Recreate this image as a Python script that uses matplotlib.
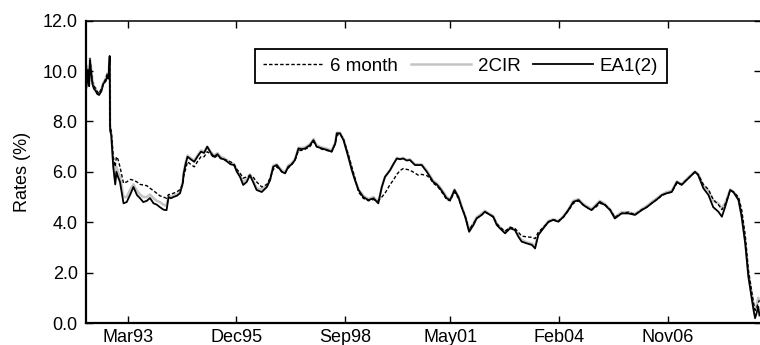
import matplotlib
matplotlib.use('Agg')
from matplotlib import pyplot as plt

dates = [1992.11, 1992.14, 1992.16, 1992.19, 1992.21, 1992.27, 1992.31, 1992.36, 1992.39, 1992.44,
         1992.50, 1992.55, 1992.61, 1992.65, 1992.68, 1992.71, 1992.72, 1992.75, 1992.80, 1992.85,
         1992.88, 1992.92, 1992.97, 1993.06, 1993.14, 1993.23, 1993.31, 1993.40, 1993.48, 1993.56,
         1993.65, 1993.73, 1993.82, 1993.90, 1993.98, 1994.07, 1994.15, 1994.20, 1994.26, 1994.32,
         1994.41, 1994.49, 1994.56, 1994.58, 1994.63, 1994.68, 1994.76, 1994.85, 1994.93, 1995.02,
         1995.10, 1995.18, 1995.27, 1995.35, 1995.44, 1995.52, 1995.60, 1995.69, 1995.77, 1995.86,
         1995.93, 1996.01, 1996.09, 1996.18, 1996.26, 1996.34, 1996.43, 1996.56, 1996.69, 1996.77,
         1996.85, 1996.94, 1997.07, 1997.15, 1997.23, 1997.32, 1997.40, 1997.49, 1997.57, 1997.66,
         1997.78, 1997.87, 1997.95, 1998.08, 1998.21, 1998.33, 1998.42, 1998.46, 1998.54, 1998.63,
         1998.75, 1998.84, 1998.92, 1999.01, 1999.13, 1999.26, 1999.39, 1999.51, 1999.60, 1999.68,
         1999.81, 1999.89, 1999.98, 2000.06, 2000.14, 2000.23, 2000.31, 2000.44, 2000.52, 2000.61,
         2000.74, 2000.82, 2000.90, 2000.99, 2001.07, 2001.16, 2001.24, 2001.33, 2001.39, 2001.44,
         2001.54, 2001.62, 2001.71, 2001.81, 2001.92, 2002.00, 2002.13, 2002.21, 2002.34, 2002.42,
         2002.51, 2002.59, 2002.72, 2002.85, 2002.97, 2003.06, 2003.14, 2003.27, 2003.40, 2003.48,
         2003.56, 2003.69, 2003.82, 2003.94, 2004.07, 2004.20, 2004.32, 2004.45, 2004.58, 2004.70,
         2004.83, 2004.91, 2005.02, 2005.12, 2005.25, 2005.38, 2005.50, 2005.67, 2005.84, 2006.01,
         2006.18, 2006.31, 2006.43, 2006.56, 2006.69, 2006.81, 2006.94, 2007.07, 2007.19, 2007.36,
         2007.53, 2007.61, 2007.74, 2007.87, 2007.99, 2008.12, 2008.21, 2008.29, 2008.42, 2008.50,
         2008.63, 2008.71, 2008.80, 2008.88, 2008.96, 2009.01, 2009.05, 2009.09, 2009.13, 2009.16]

six_month = [9.3, 9.7, 10.1, 9.6, 10.5, 9.6, 9.4, 9.3, 9.2, 9.1,
             9.3, 9.5, 9.7, 9.9, 9.8, 10.5, 7.9, 7.6, 6.6, 6.2,
             6.6, 6.5, 6.2, 5.55, 5.6, 5.7, 5.67, 5.6, 5.5, 5.48,
             5.45, 5.35, 5.25, 5.15, 5.05, 5.0, 4.95, 5.1, 5.1, 5.15,
             5.2, 5.3, 5.5, 5.8, 6.1, 6.4, 6.3, 6.2, 6.4, 6.6,
             6.6, 6.8, 6.7, 6.55, 6.65, 6.55, 6.5, 6.45, 6.4, 6.3,
             6.1, 5.95, 5.75, 5.8, 5.85, 5.8, 5.6, 5.4, 5.5, 5.75,
             6.1, 6.2, 6.0, 5.95, 6.15, 6.3, 6.45, 6.85, 6.85, 6.9,
             7.0, 7.2, 7.0, 6.9, 6.85, 6.8, 7.1, 7.45, 7.5, 7.3,
             6.7, 6.2, 5.75, 5.2, 4.95, 4.85, 4.9, 4.85, 5.0, 5.15,
             5.5, 5.67, 5.9, 6.05, 6.13, 6.1, 6.07, 5.95, 5.87, 5.9,
             5.85, 5.75, 5.55, 5.45, 5.3, 5.1, 4.9, 4.85, 5.05, 5.2,
             4.95, 4.6, 4.25, 3.7, 3.95, 4.15, 4.3, 4.4, 4.3, 4.2,
             3.95, 3.8, 3.65, 3.8, 3.75, 3.6, 3.45, 3.42, 3.4, 3.35,
             3.6, 3.8, 4.0, 4.1, 4.05, 4.2, 4.45, 4.75, 4.85, 4.7,
             4.55, 4.5, 4.6, 4.75, 4.7, 4.5, 4.2, 4.35, 4.4, 4.3,
             4.5, 4.6, 4.75, 4.9, 5.05, 5.15, 5.2, 5.55, 5.5, 5.75,
             6.0, 5.9, 5.5, 5.3, 4.9, 4.7, 4.5, 4.7, 5.25, 5.2,
             5.0, 4.5, 3.5, 2.1, 1.3, 0.8, 0.5, 0.6, 0.8, 0.9]

cir2 = [9.35, 9.7, 10.2, 9.6, 10.5, 9.7, 9.4, 9.3, 9.15, 9.1,
        9.3, 9.55, 9.7, 9.9, 9.85, 10.55, 7.8, 7.5, 6.4, 5.7,
        6.2, 6.0, 5.8, 5.0, 5.0, 5.3, 5.5, 5.25, 5.1, 5.0,
        5.0, 5.1, 4.95, 4.85, 4.8, 4.7, 4.65, 5.05, 5.0, 5.05,
        5.1, 5.2, 5.6, 5.95, 6.35, 6.65, 6.55, 6.45, 6.65, 6.85,
        6.8, 7.0, 6.8, 6.65, 6.75, 6.6, 6.55, 6.45, 6.35, 6.3,
        6.05, 5.85, 5.6, 5.7, 5.9, 5.65, 5.35, 5.3, 5.45, 5.7,
        6.25, 6.3, 6.05, 6.0, 6.25, 6.35, 6.5, 6.95, 6.95, 6.97,
        7.1, 7.3, 7.05, 6.97, 6.92, 6.85, 7.15, 7.55, 7.55, 7.3,
        6.65, 6.1, 5.7, 5.3, 5.05, 4.92, 5.0, 4.8, 5.4, 5.8,
        6.07, 6.3, 6.55, 6.52, 6.55, 6.47, 6.5, 6.3, 6.3, 6.3,
        6.05, 5.85, 5.65, 5.55, 5.4, 5.2, 5.0, 4.92, 5.1, 5.3,
        5.0, 4.65, 4.25, 3.7, 3.95, 4.2, 4.35, 4.45, 4.32, 4.25,
        3.95, 3.8, 3.6, 3.8, 3.72, 3.45, 3.3, 3.2, 3.15, 3.05,
        3.5, 3.8, 4.05, 4.12, 4.05, 4.25, 4.5, 4.85, 4.92, 4.72,
        4.6, 4.52, 4.7, 4.85, 4.72, 4.52, 4.2, 4.4, 4.4, 4.33,
        4.52, 4.65, 4.8, 4.95, 5.1, 5.2, 5.25, 5.62, 5.52, 5.78,
        6.02, 5.9, 5.45, 5.25, 4.85, 4.75, 4.55, 4.75, 5.3, 5.22,
        4.95, 4.3, 3.3, 2.0, 1.2, 0.75, 0.5, 0.7, 1.0, 0.9]

ea1 = [9.25, 9.6, 10.0, 9.4, 10.4, 9.5, 9.3, 9.2, 9.1, 9.05,
       9.2, 9.5, 9.6, 9.8, 9.7, 10.6, 7.65, 7.45, 6.2, 5.5,
       6.0, 5.8, 5.6, 4.75, 4.8, 5.1, 5.4, 5.08, 4.95, 4.8,
       4.85, 4.96, 4.75, 4.7, 4.6, 4.5, 4.48, 5.0, 4.95, 5.0,
       5.05, 5.15, 5.55, 5.9, 6.3, 6.6, 6.5, 6.4, 6.6, 6.8,
       6.75, 7.0, 6.75, 6.6, 6.7, 6.53, 6.5, 6.4, 6.3, 6.27,
       6.0, 5.8, 5.48, 5.6, 5.87, 5.6, 5.28, 5.2, 5.4, 5.67,
       6.2, 6.27, 6.0, 5.94, 6.2, 6.3, 6.47, 6.93, 6.9, 6.93,
       7.06, 7.26, 7.0, 6.93, 6.87, 6.8, 7.13, 7.53, 7.53, 7.26,
       6.6, 6.07, 5.67, 5.28, 5.0, 4.88, 4.95, 4.75, 5.4, 5.8,
       6.07, 6.3, 6.53, 6.5, 6.53, 6.45, 6.47, 6.27, 6.27, 6.27,
       6.0, 5.8, 5.6, 5.5, 5.35, 5.15, 4.95, 4.88, 5.1, 5.28,
       5.0, 4.6, 4.22, 3.62, 3.89, 4.15, 4.29, 4.42, 4.29, 4.22,
       3.89, 3.76, 3.56, 3.76, 3.69, 3.42, 3.23, 3.16, 3.1, 2.96,
       3.49, 3.76, 4.02, 4.09, 4.02, 4.22, 4.48, 4.81, 4.88, 4.68,
       4.55, 4.48, 4.65, 4.81, 4.68, 4.48, 4.15, 4.35, 4.35, 4.29,
       4.48, 4.6, 4.75, 4.9, 5.08, 5.15, 5.2, 5.6, 5.48, 5.74,
       6.0, 5.87, 5.35, 5.08, 4.6, 4.42, 4.22, 4.6, 5.28, 5.2,
       4.88, 4.22, 3.16, 1.84, 1.04, 0.52, 0.19, 0.4, 0.65, 0.3]

tick_pos = [1993.167, 1995.917, 1998.667, 2001.333, 2004.083, 2006.833]
tick_labels = ['Mar93', 'Dec95', 'Sep98', 'May01', 'Feb04', 'Nov06']

plt.rcParams['font.family'] = ['Liberation Sans', 'DejaVu Sans']
plt.rcParams['font.size'] = 13

fig = plt.figure(figsize=(7.6, 3.45), dpi=100)
ax = fig.add_axes([86 / 760, 22 / 345, 675 / 760, 302.3 / 345])

ax.plot(dates, six_month, color='black', lw=1.0, ls=(0, (2.5, 1.5)), label='6 month', zorder=2)
ax.plot(dates, cir2, color='#c4c4c4', lw=1.8, label='2CIR', zorder=1)
ax.plot(dates, ea1, color='black', lw=1.3, label='EA1(2)', zorder=3)

ax.set_xlim(1992.11, 2009.20)
ax.set_ylim(0, 12)
ax.set_yticks([0, 2, 4, 6, 8, 10, 12])
ax.set_yticklabels(['%.1f' % v for v in [0, 2, 4, 6, 8, 10, 12]])
ax.set_xticks(tick_pos)
ax.set_xticklabels(tick_labels)
ax.set_ylabel('Rates (%)', labelpad=8)

ax.tick_params(direction='in', top=True, right=True, length=5, width=1, pad=6, colors='black')
ax.tick_params(axis='x', pad=4)
for s in ['left', 'bottom']:
    ax.spines[s].set_linewidth(1.6)
for s in ['top', 'right']:
    ax.spines[s].set_linewidth(1.1)

leg = ax.legend(loc='upper left', bbox_to_anchor=(0.2503, 0.905), borderaxespad=0,
                ncol=3, handlelength=3.2, handletextpad=0.35, columnspacing=0.7,
                fancybox=False, framealpha=1, edgecolor='black', fontsize=13.5,
                borderpad=0.45)
leg.get_frame().set_linewidth(1.3)

fig.savefig('out.png', dpi=100)
